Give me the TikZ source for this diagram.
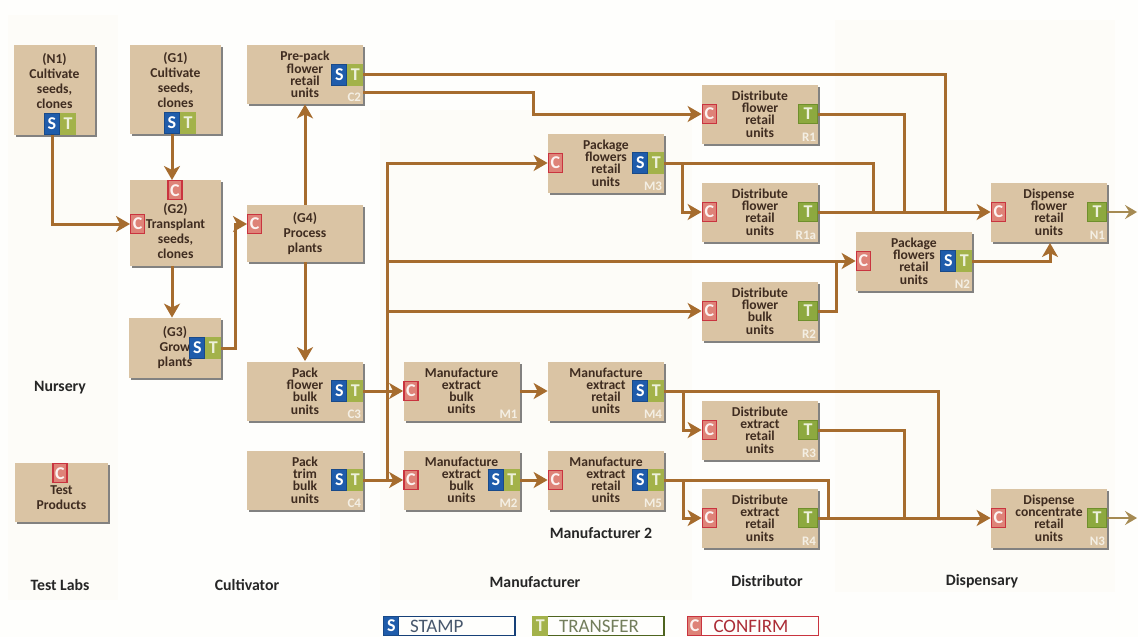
\documentclass[tikz,border=0pt]{standalone}
\usepackage{fontspec}
\setmainfont{Carlito}
\usetikzlibrary{positioning,shadows,arrows.meta}
\definecolor{pagecol}{HTML}{FEFEFC}
\definecolor{unitfill}{HTML}{DAC4A4}
\definecolor{unittext}{HTML}{3F2C20}
\definecolor{tagtext}{HTML}{F4EFE4}
\definecolor{flowcol}{HTML}{A66C2E}
\definecolor{outcol}{HTML}{A58A52}
\definecolor{stampcol}{HTML}{1F5CAB}
\definecolor{transfercol}{HTML}{A3B24A}
\definecolor{transferbig}{HTML}{8DA93F}
\definecolor{transferline}{HTML}{6F8F2C}
\definecolor{confirmcol}{HTML}{DE8378}
\definecolor{confirmline}{HTML}{C9343F}
\definecolor{bandcol}{HTML}{FDFCF8}
\begin{document}
\begin{tikzpicture}[x=0.5pt,y=-0.5pt,
	every node/.style={text=unittext},
	unitbox/.style={fill=unitfill, minimum width=58pt, minimum height=29.5pt, inner sep=0pt, align=center,
		font=\fontsize{6.8}{6.1}\selectfont\bfseries,
		drop shadow={shadow xshift=1.2pt, shadow yshift=-1.2pt, opacity=.75, fill=black!65}},
	roomy/.style={font=\fontsize{6.8}{7.5}\selectfont\bfseries},
	ssign/.style={fill=stampcol, draw=stampcol!80!black, line width=.5pt, text=white, minimum width=7.5pt, minimum height=10.5pt, inner sep=0pt, font=\fontsize{9}{9}\selectfont\bfseries},
	tsign/.style={fill=transfercol, draw=transfercol, line width=.5pt, text=white!80!transfercol, minimum width=7.5pt, minimum height=10.5pt, inner sep=0pt, font=\fontsize{9}{9}\selectfont\bfseries},
	bigt/.style={tsign, fill=transferbig, draw=transferline, line width=.8pt, minimum width=9.5pt, minimum height=9.5pt},
	csign/.style={fill=confirmcol, draw=confirmline, line width=.7pt, text=white!90!confirmcol, minimum width=7pt, minimum height=9.5pt, inner sep=0pt, font=\fontsize{9}{9}\selectfont\bfseries},
	unittag/.style={text=tagtext, inner sep=1pt, font=\fontsize{6.5}{6.5}\selectfont\bfseries},
	rolename/.style={inner sep=0pt, text=black!85, font=\fontsize{7.9}{8}\selectfont\bfseries},
	legendbox/.style={draw, line width=.6pt, minimum height=9.5pt, inner xsep=0pt, inner ysep=0pt, text width=65.5pt, align=left, font=\fontsize{9.5}{9.5}\selectfont, execute at begin node=\hspace*{13pt}},
	band/.style={fill=bandcol, draw=none},
	wire/.style={draw=flowcol, line width=1.5pt},
	flow/.style={wire, -{Stealth[length=7pt,width=8pt,inset=2pt]}},
	outflow/.style={draw=outcol, line width=1.3pt, -{Stealth[length=6pt,width=7pt,inset=2.2pt]}}
	]
	\useasboundingbox (0,0) rectangle (1138,637);
	\fill[pagecol] (0,0) rectangle (1138,637);
	\path[band] (8,15) rectangle (118,600);
	\path[band] (380,110) rectangle (692,600);
	\path[band] (835,20) rectangle (1115,592);

	% nursery and test labs
	\node[unitbox, roomy, minimum width=40.5pt, minimum height=45pt] (n1) at (54.5,90) {(N1)\\Cultivate\\seeds,\\clones\\[2pt]~};
	\node[tsign, anchor=south west] (n1T) at (60,135) {T};
	\node[ssign, left=0pt of n1T] (n1S) {S};
	\node[unitbox, minimum width=46.5pt, minimum height=29.5pt] (test) at (61.5,492.5) {\\[3.5pt]Test\\[1pt]Products};
	\node[csign, anchor=north] (testC) at (60,463) {C};

	% cultivator
	\node[unitbox, roomy, minimum width=45.5pt, minimum height=44.5pt] (g1) at (175.5,89.5) {(G1)\\Cultivate\\seeds,\\clones\\[2pt]~};
	\node[tsign, anchor=south west] (g1T) at (180,134) {T};
	\node[ssign, left=0pt of g1T] (g1S) {S};
	\node[unitbox, roomy, minimum width=45.5pt, minimum height=43pt] (g2) at (175.5,222.5) {~\\[6pt](G2)\\Transplant\\seeds,\\clones};
	\node[csign, anchor=north] (g2Ct) at (175,180) {C};
	\node[csign, anchor=west] (g2Cl) at (130,224) {C};
	\node[unitbox, roomy, minimum width=46pt, minimum height=30pt] (g3) at (175,348) {(G3)\\Grow\\plants};
	\node[tsign, anchor=east] (g3T) at (g3.east) {T};
	\node[ssign, left=0pt of g3T] (g3S) {S};
	\node[unitbox, roomy, minimum height=28.5pt] (g4) at (305,233.5) {(G4)\\Process\\plants};
	\node[csign, anchor=west] (g4C) at (247,224) {C};
	\node[unitbox] (c2) at (305,74.5) {Pre-pack\\flower\\retail\\units};
	\node[tsign, anchor=east] (c2T) at (c2.east) {T};
	\node[ssign, left=0pt of c2T] (c2S) {S};
	\node[unittag, anchor=south east] (c2tag) at (c2.south east) {C2};
	\node[unitbox] (c3) at (305,391) {Pack\\flower\\bulk\\units};
	\node[tsign, anchor=east] (c3T) at (c3.east) {T};
	\node[ssign, left=0pt of c3T] (c3S) {S};
	\node[unittag, anchor=south east] (c3tag) at (c3.south east) {C3};
	\node[unitbox] (c4) at (305,480) {Pack\\trim\\bulk\\units};
	\node[tsign, anchor=east] (c4T) at (c4.east) {T};
	\node[ssign, left=0pt of c4T] (c4S) {S};
	\node[unittag, anchor=south east] (c4tag) at (c4.south east) {C4};

	% manufacturer
	\node[unitbox] (m3) at (606,163) {Package\\flowers\\retail\\units};
	\node[csign, anchor=west] (m3C) at (m3.west) {C};
	\node[tsign, anchor=east] (m3T) at (m3.east) {T};
	\node[ssign, left=0pt of m3T] (m3S) {S};
	\node[unittag, anchor=south east] (m3tag) at (m3.south east) {M3};
	\node[unitbox] (m1) at (461.5,391) {Manufacture\\extract\\bulk\\units};
	\node[csign, anchor=west] (m1C) at (m1.west) {C};
	\node[unittag, anchor=south east] (m1tag) at (m1.south east) {M1};
	\node[unitbox] (m4) at (606,391) {Manufacture\\extract\\retail\\units};
	\node[tsign, anchor=east] (m4T) at (m4.east) {T};
	\node[ssign, left=0pt of m4T] (m4S) {S};
	\node[unittag, anchor=south east] (m4tag) at (m4.south east) {M4};
	\node[unitbox] (m2) at (461.5,480) {Manufacture\\extract\\bulk\\units};
	\node[csign, anchor=west] (m2C) at (m2.west) {C};
	\node[tsign, anchor=east] (m2T) at (m2.east) {T};
	\node[ssign, left=0pt of m2T] (m2S) {S};
	\node[unittag, anchor=south east] (m2tag) at (m2.south east) {M2};
	\node[unitbox] (m5) at (606,480) {Manufacture\\extract\\retail\\units};
	\node[csign, anchor=west] (m5C) at (m5.west) {C};
	\node[tsign, anchor=east] (m5T) at (m5.east) {T};
	\node[ssign, left=0pt of m5T] (m5S) {S};
	\node[unittag, anchor=south east] (m5tag) at (m5.south east) {M5};

	% distributor
	\node[unitbox] (r1) at (760,114) {Distribute\\flower\\retail\\units};
	\node[csign, anchor=west] (r1C) at (r1.west) {C};
	\node[bigt, anchor=east] (r1T) at (r1.east) {T};
	\node[unittag, anchor=south east] (r1tag) at (r1.south east) {R1};
	\node[unitbox] (r1a) at (760,212) {Distribute\\flower\\retail\\units};
	\node[csign, anchor=west] (r1aC) at (r1a.west) {C};
	\node[bigt, anchor=east] (r1aT) at (r1a.east) {T};
	\node[unittag, anchor=south east] (r1atag) at (r1a.south east) {R1a};
	\node[unitbox] (r2) at (760,311) {Distribute\\flower\\bulk\\units};
	\node[csign, anchor=west] (r2C) at (r2.west) {C};
	\node[bigt, anchor=east] (r2T) at (r2.east) {T};
	\node[unittag, anchor=south east] (r2tag) at (r2.south east) {R2};
	\node[unitbox] (r3) at (760,430) {Distribute\\extract\\retail\\units};
	\node[csign, anchor=west] (r3C) at (r3.west) {C};
	\node[bigt, anchor=east] (r3T) at (r3.east) {T};
	\node[unittag, anchor=south east] (r3tag) at (r3.south east) {R3};
	\node[unitbox] (r4) at (760,518) {Distribute\\extract\\retail\\units};
	\node[csign, anchor=west] (r4C) at (r4.west) {C};
	\node[bigt, anchor=east] (r4T) at (r4.east) {T};
	\node[unittag, anchor=south east] (r4tag) at (r4.south east) {R4};

	% dispensary
	\node[unitbox] (n2) at (914,261) {Package\\flowers\\retail\\units};
	\node[csign, anchor=west] (n2C) at (n2.west) {C};
	\node[tsign, anchor=east] (n2T) at (n2.east) {T};
	\node[ssign, left=0pt of n2T] (n2S) {S};
	\node[unittag, anchor=south east] (n2tag) at (n2.south east) {N2};
	\node[unitbox] (dn1) at (1049,212) {Dispense\\flower\\retail\\units};
	\node[csign, anchor=west] (dn1C) at (dn1.west) {C};
	\node[bigt, anchor=east] (dn1T) at (dn1.east) {T};
	\node[unittag, anchor=south east] (dn1tag) at (dn1.south east) {N1};
	\node[unitbox] (n3) at (1049,518) {Dispense\\concentrate\\retail\\units};
	\node[csign, anchor=west] (n3C) at (n3.west) {C};
	\node[bigt, anchor=east] (n3T) at (n3.east) {T};
	\node[unittag, anchor=south east] (n3tag) at (n3.south east) {N3};

	% names of the parties
	\node[rolename] (nursery) at (60,388) {Nursery};
	\node[rolename] (testlabs) at (60,585) {Test Labs};
	\node[rolename] (cultivator) at (247,585) {Cultivator};
	\node[rolename] (manufacturer) at (535,582) {Manufacturer};
	\node[rolename] (manufacturer2) at (601,533) {Manufacturer 2};
	\node[rolename] (distributor) at (767,581) {Distributor};
	\node[rolename] (dispensary) at (982,581) {Dispensary};

	% key
	\node[legendbox, draw=stampcol!70!black, text=stampcol!35!black!75] (stampkey) at (449.5,626) {STAMP};
	\node[ssign, anchor=west, minimum height=9.5pt] (stampS) at (stampkey.west) {S};
	\node[legendbox, draw=transferline!70!black, text=transferline!50!black!70] (transferkey) at (598.5,626) {TRANSFER};
	\node[tsign, anchor=west, minimum height=9.5pt] (transferT) at (transferkey.west) {T};
	\node[legendbox, draw=confirmline, text=confirmline!85!black] (confirmkey) at (753,626) {CONFIRM};
	\node[csign, anchor=west] (confirmC) at (confirmkey.west) {C};

	% free ends and bends
	\coordinate (bus) at (387,300);
	\coordinate (c2low) at (363,92);
	\coordinate (c2bend) at (533,100);
	\coordinate (dropa) at (873,190);
	\coordinate (dropb) at (904,190);
	\coordinate (dropc) at (945,190);
	\coordinate (dropd) at (836,290);
	\coordinate (drope) at (828,500);
	\coordinate (dropf) at (904,480);
	\coordinate (dropg) at (938,480);
	\coordinate (tapa) at (682,190);
	\coordinate (tapb) at (683,410);
	\coordinate (tapc) at (683,500);
	\coordinate (g3bend) at (235,300);
	\coordinate (n1in) at (1050,243);
	\coordinate (dn1out) at (1137,212);
	\coordinate (n3out) at (1137,518);

	\draw[flow] (n1S.south) |- (g2Cl.west);
	\draw[flow] (g1S.south) -- (g2Ct.north -| g1S.south);
	\draw[flow] (g2.south -| g1S.south) -- (g3.north -| g1S.south);
	\draw[flow] (g3T.east) -| (g3bend) |- (g4C.west);
	\draw[flow] (g4.north) -- (c2.south);
	\draw[flow] (g4.south) -- (c3.north);
	\draw[wire] (c2low) -| (c2bend);
	\draw[flow] (c2bend) |- (r1C.west);
	\draw[flow] (c3T.east) -- (m1C.west);
	\draw[flow] (c4T.east) -- (m2C.west);
	\draw[flow] (m2C.west -| bus) |- (m3C.west);
	\draw[flow] (n2C.west -| bus) -- (n2C.west);
	\draw[flow] (r2C.west -| bus) -- (r2C.west);
	\draw[flow] (m1.east) -- (m4.west);
	\draw[flow] (m2T.east) -- (m5C.west);
	\draw[flow] (r1aT.east) -- (dn1C.west);
	\draw[wire] (c2T.east) -| (dn1C.west -| dropc);
	\draw[wire] (r1T.east) -| (dn1C.west -| dropb);
	\draw[wire] (m3T.east) -| (dn1C.west -| dropa);
	\draw[flow] (m3T.east -| tapa) |- (r1aC.west);
	\draw[wire] (r2T.east) -| (n2C.west -| dropd);
	\draw[flow] (n2T.east) -| (n1in);
	\draw[flow] (r4T.east) -- (n3C.west);
	\draw[wire] (m4T.east) -| (n3C.west -| dropg);
	\draw[wire] (r3T.east) -| (n3C.west -| dropf);
	\draw[wire] (m5T.east) -| (n3C.west -| drope);
	\draw[flow] (m4T.east -| tapb) |- (r3C.west);
	\draw[flow] (m5T.east -| tapc) |- (r4C.west);
	\draw[outflow] (dn1T.east) -- (dn1out);
	\draw[outflow] (n3T.east) -- (n3out);
\end{tikzpicture}
\end{document}
